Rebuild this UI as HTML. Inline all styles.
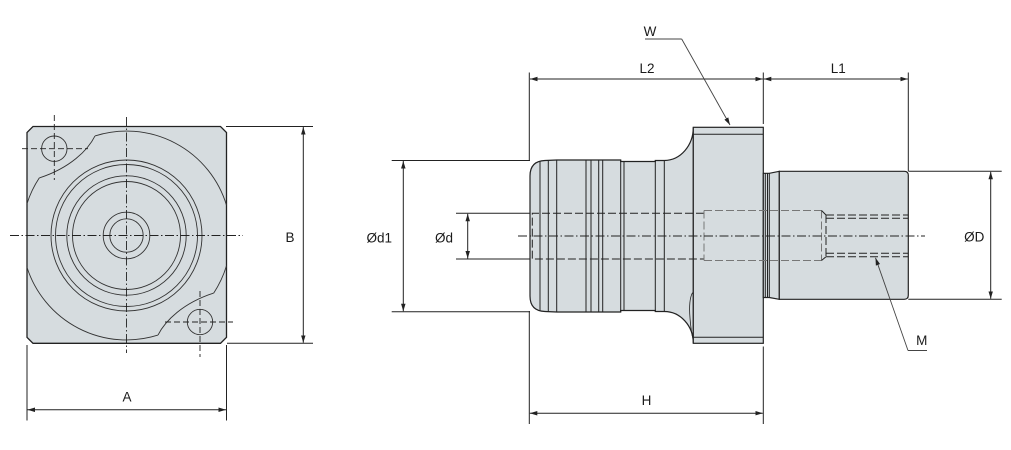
<!DOCTYPE html>
<html><head><meta charset="utf-8"><style>
html,body{margin:0;padding:0;background:#fff;}
svg{display:block;}
text{font-family:"Liberation Sans",Arial,sans-serif;font-size:13.5px;fill:#1a1a1a;}
</style></head><body>
<svg width="1011" height="450" viewBox="0 0 1011 450" xmlns="http://www.w3.org/2000/svg">
<defs>
<marker id="ar" markerWidth="8" markerHeight="5" refX="7.5" refY="2.25" orient="auto-start-reverse" markerUnits="userSpaceOnUse">
<path d="M0,0 L7.5,2.25 L0,4.5 z" fill="#222"/>
</marker>
</defs>

<!-- ===== LEFT VIEW ===== -->
<polygon points="33,126.5 220.5,126.5 226.5,132.5 226.5,337.3 220.5,343.3 33,343.3 27,337.3 27,132.5" fill="#d6dcdf" stroke="#222" stroke-width="1.3"/>
<g fill="none" stroke="#333" stroke-width="0.9">
<!-- big boundary arcs -->
<path d="M95,135.9 A104.5,104.5 0 0 1 226.5,205.2"/>
<path d="M226.5,265.8 A104.5,104.5 0 0 1 213.7,293.1"/>
<path d="M213.7,293.1 C183,303 165,321 158,335.1"/>
<path d="M158,335.1 A104.5,104.5 0 0 1 27,267.4"/>
<path d="M27,203.6 A104.5,104.5 0 0 1 39.3,177.9"/>
<path d="M39.3,177.9 C70,168 88,150 95,135.9"/>
<circle cx="126.5" cy="235.5" r="75.5"/>
<circle cx="126.5" cy="235.5" r="71"/>
<circle cx="126.5" cy="235.5" r="59.7"/>
<circle cx="126.5" cy="235.5" r="54"/>
<circle cx="126.5" cy="235.5" r="23.3"/>
<circle cx="126.5" cy="235.5" r="16.7"/>
<circle cx="54.3" cy="148.7" r="12.7"/>
<circle cx="200" cy="322" r="12.7"/>
</g>
<g fill="none" stroke="#222" stroke-width="0.9">
<line x1="10" y1="235.5" x2="243" y2="235.5" stroke-dasharray="9 2.5 1.5 2.5"/>
<line x1="126.5" y1="117" x2="126.5" y2="353" stroke-dasharray="9 2.5 1.5 2.5"/>
<line x1="54.3" y1="115" x2="54.3" y2="180" stroke-dasharray="6 3"/>
<line x1="22" y1="148.7" x2="88" y2="148.7" stroke-dasharray="6 3"/>
<line x1="200" y1="291" x2="200" y2="357" stroke-dasharray="6 3"/>
<line x1="165" y1="322" x2="233" y2="322" stroke-dasharray="6 3"/>
</g>
<!-- B dimension -->
<g stroke="#222" stroke-width="1" fill="none">
<line x1="226" y1="126.5" x2="313" y2="126.5"/>
<line x1="227" y1="343.3" x2="313" y2="343.3"/>
<line x1="303.3" y1="127" x2="303.3" y2="342.8" marker-start="url(#ar)" marker-end="url(#ar)"/>
<!-- A dimension -->
<line x1="27" y1="345" x2="27" y2="420.5"/>
<line x1="226.5" y1="345" x2="226.5" y2="420.5"/>
<line x1="27.5" y1="409.8" x2="226" y2="409.8" marker-start="url(#ar)" marker-end="url(#ar)"/>
</g>
<text x="290" y="242" text-anchor="middle">B</text>
<text x="127" y="401.5" text-anchor="middle">A</text>

<!-- ===== RIGHT VIEW ===== -->
<g stroke="#222" stroke-width="1.2" fill="#d6dcdf">
<path d="M530,176 Q530,161 545,160.5 L556.7,160 L620.7,160 L620.7,161.5 L655.3,161.5 L655.3,160.5 L664.3,160.5 A29,33.2 0 0 0 693.3,127.3 L693.3,343.3 A29,31.8 0 0 0 664.3,311.5 L655.3,311.5 L655.3,310.5 L620.7,310.5 L620.7,312 L556.7,312 L545,311.5 Q530,311 530,296 Z"/>
<rect x="693.3" y="127.3" width="70" height="216"/>
<path d="M763.3,173.3 L769.3,173.3 L779.3,171.3 L779.3,299.3 L769.3,297.5 L763.3,297.5 Z"/>
<path d="M779.3,171.3 L904.3,171.3 Q908.3,171.3 908.3,175.3 L908.3,295.3 Q908.3,299.3 904.3,299.3 L779.3,299.3 Z"/>
</g>
<g stroke="#222" stroke-width="1" fill="none">
<line x1="540" y1="161.5" x2="540" y2="310.5"/>
<line x1="548.3" y1="161" x2="548.3" y2="311"/>
<line x1="556.7" y1="160" x2="556.7" y2="312"/>
<line x1="586" y1="160" x2="586" y2="312"/>
<line x1="591" y1="160" x2="591" y2="312"/>
<line x1="598.7" y1="160" x2="598.7" y2="312"/>
<line x1="602.7" y1="160" x2="602.7" y2="312"/>
<line x1="620.7" y1="160" x2="620.7" y2="312"/>
<line x1="624" y1="161.5" x2="624" y2="310.5"/>
<line x1="655.3" y1="160.5" x2="655.3" y2="311.5"/>
<line x1="664.3" y1="160.5" x2="664.3" y2="311.5"/>
<line x1="693.3" y1="134.3" x2="763.3" y2="134.3"/>
<line x1="693.3" y1="337.3" x2="763.3" y2="337.3"/>
<line x1="765.3" y1="173.3" x2="765.3" y2="297.5"/>
<line x1="767.5" y1="173.3" x2="767.5" y2="297.5"/>
<line x1="769.3" y1="173.3" x2="769.3" y2="297.5"/>
<path d="M692.5,292.7 Q688.5,300 690,318 Q691,332 693.3,340" stroke-width="0.8"/>
</g>
<!-- hidden lines -->
<g fill="none" stroke-width="1">
<path d="M704,213.3 L532.3,213.3 L532.3,259 L704,259" stroke="#222" stroke-dasharray="8 3"/>
<path d="M704,210.5 L821.5,210.5 M704,260.5 L821.5,260.5 M704,210.5 L704,260.5 M821.5,210.5 L821.5,260.5" stroke="#777" stroke-dasharray="8 3"/>
<path d="M826,215 L908,215 M826,218.3 L908,218.3 M826,253.3 L908,253.3 M826,256.7 L908,256.7 M826,215 L826,256.7 M821.5,210.5 L826,215 M821.5,260.5 L826,256.7" stroke="#222" stroke-dasharray="8 3"/>
</g>
<line x1="518" y1="236" x2="925" y2="236" stroke="#222" stroke-width="0.9" stroke-dasharray="9 2.5 1.5 2.5"/>

<!-- dimensions right view -->
<g stroke="#222" stroke-width="1" fill="none">
<!-- L2 / L1 -->
<line x1="529.3" y1="72.5" x2="529.3" y2="161"/>
<line x1="529.3" y1="311" x2="529.3" y2="424"/>
<line x1="763.3" y1="72.5" x2="763.3" y2="124"/>
<line x1="908.3" y1="72.5" x2="908.3" y2="171"/>
<line x1="530" y1="79" x2="762.8" y2="79" marker-start="url(#ar)" marker-end="url(#ar)"/>
<line x1="763.8" y1="79" x2="907.8" y2="79" marker-start="url(#ar)" marker-end="url(#ar)"/>
<!-- H -->
<line x1="763.3" y1="346.5" x2="763.3" y2="424"/>
<line x1="529.8" y1="413.2" x2="762.8" y2="413.2" marker-start="url(#ar)" marker-end="url(#ar)"/>
<!-- d1 -->
<line x1="391.7" y1="160.5" x2="530" y2="160.5"/>
<line x1="391.7" y1="311.7" x2="530" y2="311.7"/>
<line x1="403.3" y1="161" x2="403.3" y2="311.2" marker-start="url(#ar)" marker-end="url(#ar)"/>
<!-- d -->
<line x1="456" y1="213.3" x2="530" y2="213.3"/>
<line x1="456" y1="259" x2="530" y2="259"/>
<line x1="467.7" y1="213.8" x2="467.7" y2="258.5" marker-start="url(#ar)" marker-end="url(#ar)"/>
<!-- D -->
<line x1="908.3" y1="171.3" x2="1001.7" y2="171.3"/>
<line x1="908.3" y1="299.3" x2="1001.7" y2="299.3"/>
<line x1="990.7" y1="171.8" x2="990.7" y2="298.8" marker-start="url(#ar)" marker-end="url(#ar)"/>
</g>
<!-- leaders -->
<g stroke="#444" stroke-width="0.9" fill="none">
<line x1="645" y1="39" x2="681.7" y2="39"/>
<line x1="681.7" y1="39" x2="730" y2="125" marker-end="url(#ar)"/>
<line x1="908" y1="350.5" x2="927" y2="350.5"/>
<line x1="908" y1="350.5" x2="875.5" y2="257.8" marker-end="url(#ar)"/>
</g>

<text x="650" y="36" text-anchor="middle">W</text>
<text x="647" y="73" text-anchor="middle">L2</text>
<text x="838.3" y="73" text-anchor="middle">L1</text>
<text x="379.3" y="242.5" text-anchor="middle">Ød1</text>
<text x="444" y="242.5" text-anchor="middle">Ød</text>
<text x="974.3" y="241.5" text-anchor="middle">ØD</text>
<text x="646.5" y="405" text-anchor="middle">H</text>
<text x="921.7" y="345" text-anchor="middle">M</text>
</svg>
</body></html>
